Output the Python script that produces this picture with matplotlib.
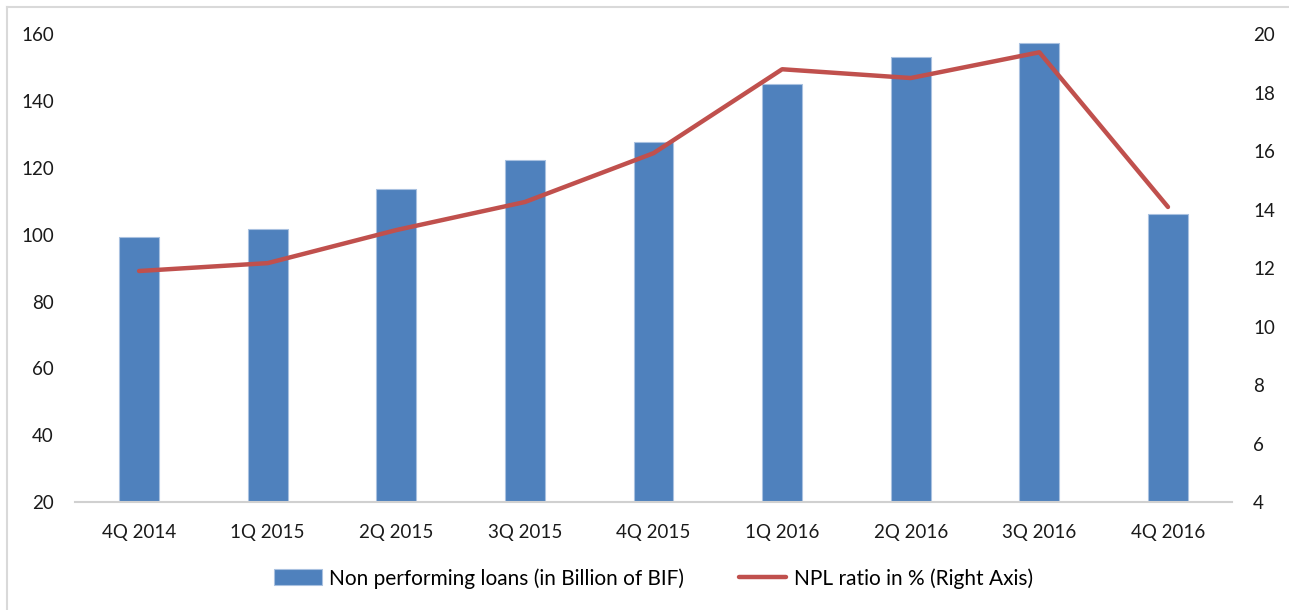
import numpy as np
import matplotlib

matplotlib.use("Agg")
import matplotlib.pyplot as plt
from matplotlib.lines import Line2D

quarters = ["4Q 2014", "1Q 2015", "2Q 2015", "3Q 2015", "4Q 2015",
            "1Q 2016", "2Q 2016", "3Q 2016", "4Q 2016"]
npl_amount = [99.3, 101.6, 113.6, 122.3, 127.7, 145.2, 153.1, 157.3, 106.3]
npl_ratio = [11.9, 12.17, 13.3, 14.26, 15.93, 18.8, 18.5, 19.38, 14.09]

left_ticks = [20, 40, 60, 80, 100, 120, 140, 160]
right_ticks = [4, 6, 8, 10, 12, 14, 16, 18, 20]

plt.rcParams["font.family"] = ["Lato", "DejaVu Sans"]

fig = plt.figure(figsize=(12.89, 6.10), dpi=100)
ax = fig.add_axes([0.058, 0.177, 0.898, 0.767])
ax2 = ax.twinx()

x = np.arange(len(quarters))
bars = ax.bar(x, npl_amount, width=0.31, color="#4F81BD",
              edgecolor="#A9C1E0", linewidth=0.8, zorder=2,
              label="Non performing loans (in Billion of BIF)")
line, = ax2.plot(x, npl_ratio, color="#C0504D", linewidth=3.2,
                 solid_capstyle="round", solid_joinstyle="round",
                 label="NPL ratio in % (Right Axis)")

ax.set_xlim(-0.5, len(quarters) - 0.5)
ax.set_ylim(20, 160)
ax.set_yticks(left_ticks)
ax2.set_ylim(4, 20)
ax2.set_yticks(right_ticks)

ax.set_xticks(x)
ax.set_xticklabels(quarters)

for a in (ax, ax2):
    for side in ("left", "right", "top", "bottom"):
        a.spines[side].set_visible(False)
    a.tick_params(length=0, labelsize=13.5, colors="#1a1a1a")

ax.spines["bottom"].set_visible(True)
ax.spines["bottom"].set_color("#D0D0D0")
ax.spines["bottom"].set_linewidth(1.5)
ax.tick_params(axis="x", pad=16)
ax.tick_params(axis="y", pad=15)
ax2.tick_params(axis="y", pad=15)

fig.legend(handles=[bars, line], loc="center", bbox_to_anchor=(0.507, 0.052),
           ncol=2, frameon=False, fontsize=15, handlelength=2.3,
           handleheight=0.8, columnspacing=2.6, handletextpad=0.35)

# outer chart border (top and left visible)
fig.add_artist(Line2D([0.0055, 1.0], [0.9885, 0.9885], color="#D9D9D9", linewidth=1.5))
fig.add_artist(Line2D([0.0055, 0.0055], [0.0, 0.9885], color="#D9D9D9", linewidth=1.5))

fig.savefig("out.png", dpi=100)
